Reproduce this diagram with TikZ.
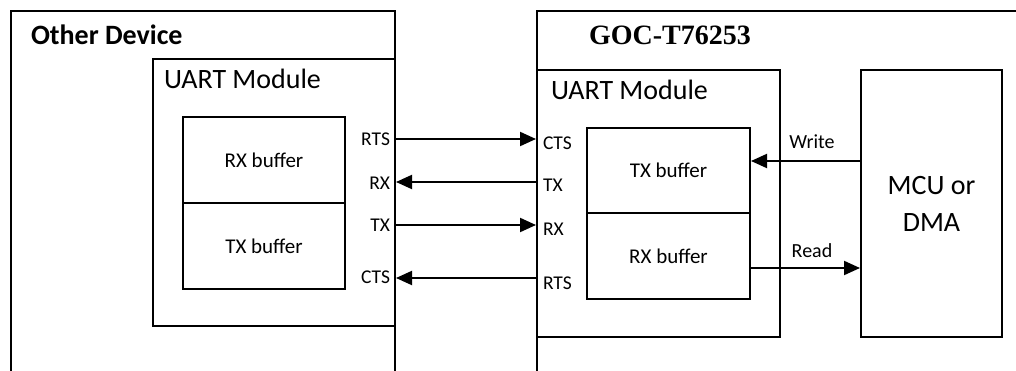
\documentclass[tikz,border=0pt]{standalone}
\usepackage{fontspec}
\setmainfont{Carlito}
\newfontfamily\headserif{Liberation Serif}
\usetikzlibrary{arrows.meta}

\begin{document}
\begin{tikzpicture}[x=1pt,y=-1pt,
  line width=2pt,
  box/.style={draw, line width=2pt, rectangle, inner sep=0pt},
  arr/.style={-{Triangle[length=16pt,width=14pt]}, line width=2pt},
  big/.style={font=\fontsize{28}{36}\selectfont, inner sep=0pt},
  pin/.style={font=\fontsize{19.5}{22}\selectfont, inner sep=0pt},
  buf/.style={box, font=\fontsize{21}{24}\selectfont},
  lbl/.style={font=\fontsize{20}{22}\selectfont, inner sep=0pt}]

\useasboundingbox (0,0) rectangle (1016,371);
\clip (0,0) rectangle (1016,371);

% device outlines (open towards the bottom)
\draw (11,372) |- (395,11) -- (395,372);
\draw (537,372) |- (1018,11);

\node[big, font=\fontsize{28}{36}\selectfont\bfseries, anchor=base west] (otherdev) at (30,45) {Other Device};
\node[anchor=base, inner sep=0pt, font=\headserif\fontsize{28}{32}\selectfont\bfseries] (goc) at (670,45) {GOC-T76253};

% UART modules
\node[box, minimum width=242pt, minimum height=267pt] (lmod) at (274,192.5) {};
\node[box, minimum width=243pt, minimum height=267pt] (rmod) at (658.5,203.5) {};
\node[big, anchor=base west] (lmodt) at (163,89) {UART Module};
\node[big, anchor=base west] (rmodt) at (550,100) {UART Module};

% buffers
\node[buf, minimum width=162pt, minimum height=86pt] (lrx) at (264,160) {RX buffer};
\node[buf, minimum width=162pt, minimum height=86pt] (ltx) at (264,246) {TX buffer};
\node[buf, minimum width=163pt, minimum height=85pt] (rtx) at (668.5,170.5) {TX buffer};
\node[buf, minimum width=163pt, minimum height=86pt] (rrx) at (668.5,256) {RX buffer};

% host side
\node[box, minimum width=141pt, minimum height=267pt, align=center,
      font=\fontsize{28}{37}\selectfont] (mcu) at (931.5,203.5) {MCU or\\DMA};

% pin names
\node[pin, anchor=east] (lrts) at (391,139) {RTS};
\node[pin, anchor=east] (lrxp) at (391,183) {RX};
\node[pin, anchor=east] (ltxp) at (391,225) {TX};
\node[pin, anchor=east] (lcts) at (391,277) {CTS};
\node[pin, anchor=west] (rcts) at (542,143) {CTS};
\node[pin, anchor=west] (rtxp) at (542,185) {TX};
\node[pin, anchor=west] (rrxp) at (542,229) {RX};
\node[pin, anchor=west] (rrts) at (542,283) {RTS};

% pin ends on the module edges
\coordinate (a1) at (lmod.east |- 0,139);
\coordinate (b1) at (rmod.west |- 0,139);
\coordinate (a2) at (lmod.east |- 0,182);
\coordinate (b2) at (rmod.west |- 0,182);
\coordinate (a3) at (lmod.east |- 0,225);
\coordinate (b3) at (rmod.west |- 0,225);
\coordinate (a4) at (lmod.east |- 0,278);
\coordinate (b4) at (rmod.west |- 0,278);

\draw[arr] (a1) -- (b1);
\draw[arr] (b2) -- (a2);
\draw[arr] (a3) -- (b3);
\draw[arr] (b4) -- (a4);

% buffer access
\coordinate (w1) at (mcu.west |- 0,161);
\coordinate (w2) at (rtx.east |- 0,161);
\coordinate (r1) at (rrx.east |- 0,268);
\coordinate (r2) at (mcu.west |- 0,268);
\draw[arr] (w1) -- (w2);
\draw[arr] (r1) -- (r2);
\node[lbl] (wlbl) at (812,142) {Write};
\node[lbl] (rlbl) at (812,251) {Read};

\end{tikzpicture}
\end{document}
